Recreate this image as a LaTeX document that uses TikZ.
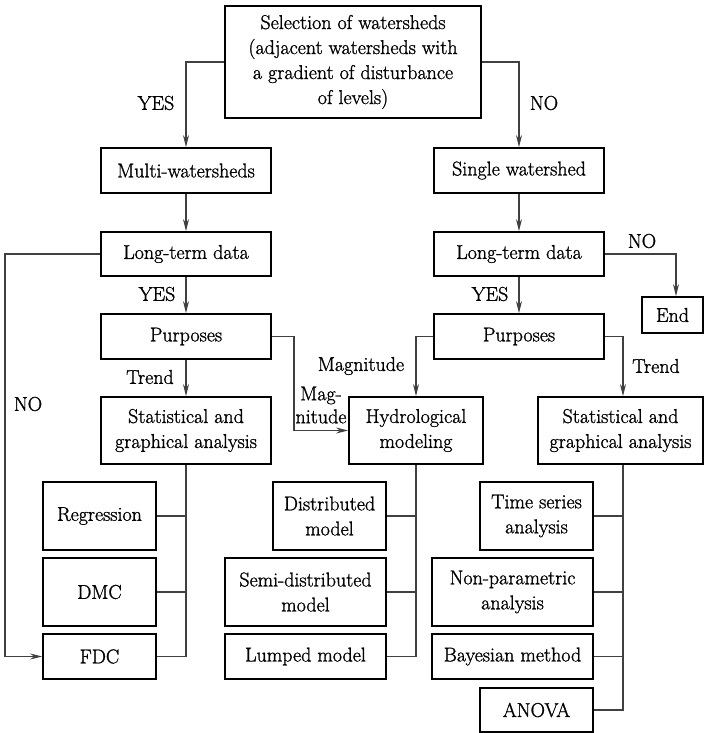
\documentclass[tikz,border=0pt]{standalone}
\usepackage{fontspec}
\newfontfamily\boxfont{Latin Modern Roman}[FakeBold=1.2]
\usetikzlibrary{arrows.meta}
\begin{document}
\begin{tikzpicture}[x=1pt,y=-1pt,
  box/.style={draw=black,line width=1.8pt,inner sep=0pt,align=center,font=\boxfont\fontsize{20}{25}\selectfont},
  conn/.style={draw=black!75,line width=1.1pt},
  arr/.style={conn,-{Stealth[length=12pt,width=6pt]}},
  lab/.style={font=\boxfont\fontsize{20}{23}\selectfont,inner sep=0pt,align=center}]
\useasboundingbox (0,0) rectangle (704,733);
% main boxes
\node[box,minimum width=256pt,minimum height=112pt] (top) at (353,62) {Selection of watersheds\\(adjacent watersheds with\\a gradient of disturbance\\of levels)};
\node[box,minimum width=170pt,minimum height=45pt] (multi) at (186,170.5) {Multi-watersheds};
\node[box,minimum width=170pt,minimum height=45pt] (single) at (519,170.5) {Single watershed};
\node[box,minimum width=170pt,minimum height=44pt] (ltdL) at (186,254) {Long-term data};
\node[box,minimum width=170pt,minimum height=44pt] (ltdR) at (519,254) {Long-term data};
\node[box,minimum width=61pt,minimum height=36pt] (end) at (672.5,315) {End};
\node[box,minimum width=170pt,minimum height=45pt] (purL) at (186,336.5) {Purposes};
\node[box,minimum width=170pt,minimum height=45pt] (purR) at (519,336.5) {Purposes};
\node[box,minimum width=170pt,minimum height=67pt] (statL) at (186,430.5) {Statistical and\\graphical analysis};
\node[box,minimum width=134pt,minimum height=67pt] (hydro) at (416,430.5) {Hydrological\\modeling};
\node[box,minimum width=165pt,minimum height=67pt] (statR) at (620.5,430.5) {Statistical and\\graphical analysis};
% left sub boxes
\node[box,minimum width=113pt,minimum height=68pt] (reg) at (99.5,516) {Regression};
\node[box,minimum width=113pt,minimum height=68pt] (dmc) at (99.5,592) {DMC};
\node[box,minimum width=113pt,minimum height=45pt] (fdc) at (99.5,656.5) {FDC};
% middle sub boxes
\node[box,minimum width=113pt,minimum height=68pt] (dist) at (329.5,516) {Distributed\\model};
\node[box,minimum width=161pt,minimum height=68pt] (semi) at (305.5,592) {Semi-distributed\\model};
\node[box,minimum width=161pt,minimum height=45pt] (lump) at (305.5,656.5) {Lumped model};
% right sub boxes
\node[box,minimum width=113pt,minimum height=68pt] (ts) at (536.5,516) {Time series\\analysis};
\node[box,minimum width=161pt,minimum height=68pt] (np) at (512.5,592) {Non-parametric\\analysis};
\node[box,minimum width=161pt,minimum height=45pt] (bay) at (512.5,656.5) {Bayesian method};
\node[box,minimum width=113pt,minimum height=44pt] (anova) at (536.5,710) {ANOVA};
% helper coordinates
\coordinate (xR) at (623,0);
\coordinate (xEnd) at (676,0);
\coordinate (xLoop) at (5,0);
\coordinate (xMag) at (294,0);
% labels
\node[lab] (yes1) at (156,103) {YES};
\node[lab] (no1) at (544,103) {NO};
\node[lab] (yes2) at (157,294) {YES};
\node[lab] (yes3) at (490,294) {YES};
\node[lab] (no2) at (642,241) {NO};
\node[lab] (no3) at (28,404) {NO};
\node[lab] (trend1) at (150,377) {Trend};
\node[lab] (mag1) at (321,405) {Mag-\\nitude};
\node[lab] (mag2) at (361,366) {Magnitude};
\node[lab] (trend2) at (656,366) {Trend};
% connectors
\draw[arr] (top.west) -| (multi.north);
\draw[arr] (top.east) -| (single.north);
\draw[arr] (multi.south) -- (ltdL.north);
\draw[arr] (single.south) -- (ltdR.north);
\draw[arr] (ltdL.south) -- (purL.north);
\draw[arr] (ltdR.south) -- (purR.north);
\draw[arr] (ltdR.east) -| (end.north -| xEnd);
\draw[arr] (ltdL.west) -- (ltdL.west -| xLoop) |- (fdc.west);
\draw[arr] (purL.south) -- (statL.north);
\draw[arr] (purL.east) -- (purL.east -| xMag) |- (hydro.west);
\draw[arr] (purR.west) -| (hydro.north);
\draw[arr] (purR.east) -| (statR.north -| xR);
% sub connectors
\draw[conn] (statL.south) |- (fdc.east);
\draw[conn] (reg.east) -- (reg.east -| statL.south);
\draw[conn] (dmc.east) -- (dmc.east -| statL.south);
\draw[conn] (hydro.south) |- (lump.east);
\draw[conn] (dist.east) -- (dist.east -| hydro.south);
\draw[conn] (semi.east) -- (semi.east -| hydro.south);
\draw[conn] (statR.south -| xR) |- (anova.east);
\draw[conn] (ts.east) -- (ts.east -| xR);
\draw[conn] (np.east) -- (np.east -| xR);
\draw[conn] (bay.east) -- (bay.east -| xR);
\end{tikzpicture}
\end{document}
